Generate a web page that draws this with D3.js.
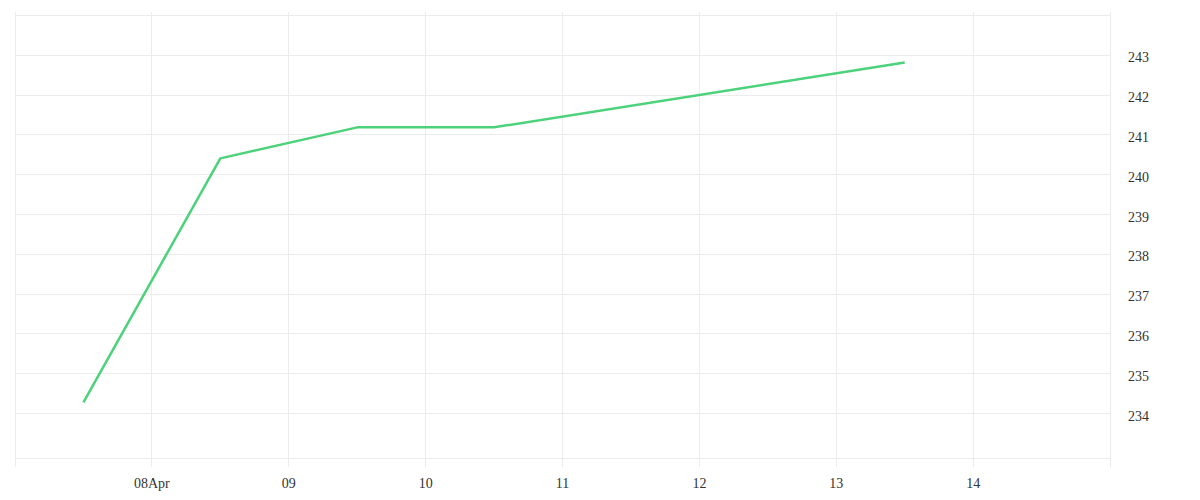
<!DOCTYPE html>
<html>
<head>
<meta charset="utf-8">
<script src="https://cdn.jsdelivr.net/npm/d3@7"></script>
<style>
  body { margin: 0; background: #fff; }
  text { font-family: "Liberation Serif", serif; font-size: 14px; fill: #333; }
</style>
</head>
<body>
<div id="canvas"></div>
<script>
// data
const dates = ["2023-04-07T12:00", "2023-04-08T12:00", "2023-04-09T12:00", "2023-04-10T12:00", "2023-04-13T12:00"];
const values = [234.28, 240.41, 241.19, 241.19, 242.82];
const yTicks = [234, 235, 236, 237, 238, 239, 240, 241, 242, 243];
const xTickDays = ["2023-04-08", "2023-04-09", "2023-04-10", "2023-04-11", "2023-04-12", "2023-04-13", "2023-04-14"];

const width = 1200;
const height = 500;
const parse = d3.timeParse("%Y-%m-%dT%H:%M");
const parseDay = d3.timeParse("%Y-%m-%d");

const data = dates.map((d, i) => ({ date: parse(d), value: values[i] }));

const svg = d3.select("#canvas").append("svg")
    .attr("width", width)
    .attr("height", height);

const x = d3.scaleTime()
    .domain([parseDay("2023-04-07"), parseDay("2023-04-15")])
    .range([15, 1110]);

const y = d3.scaleLinear()
    .domain([232.87, 244])
    .range([458.5, 15.5]);

const px = v => Math.floor(v) + 0.5;

const grid = svg.append("g").attr("stroke", "#ececec").attr("stroke-width", 1);

// horizontal grid
grid.selectAll(".hg").data(yTicks.concat([244])).enter().append("line")
    .attr("x1", x.range()[0]).attr("x2", x.range()[1] + 1)
    .attr("y1", d => px(y(d)))
    .attr("y2", d => px(y(d)));

grid.append("line")
    .attr("x1", x.range()[0]).attr("x2", x.range()[1] + 1)
    .attr("y1", y.range()[0]).attr("y2", y.range()[0]);

// vertical grid (incl. edges), running a bit past the plot
const xTicks = xTickDays.map(parseDay);
const vlines = [parseDay("2023-04-07")].concat(xTicks, [parseDay("2023-04-15")]);
grid.selectAll(".vg").data(vlines).enter().append("line")
    .attr("x1", d => px(x(d)))
    .attr("x2", d => px(x(d)))
    .attr("y1", 12)
    .attr("y2", 467);

// x labels
const fmt = d => d3.timeFormat("%d")(d) + (d.getDate() === 8 ? "Apr" : "");
svg.append("g").selectAll("text").data(xTicks).enter().append("text")
    .attr("x", d => x(d))
    .attr("y", 488)
    .attr("text-anchor", "middle")
    .text(fmt);

// y labels on the right
svg.append("g").selectAll("text").data(yTicks).enter().append("text")
    .attr("x", 1128)
    .attr("y", d => y(d) + 7)
    .text(d => d);

const line = d3.line()
    .x(d => x(d.date))
    .y(d => y(d.value));

svg.append("path")
    .datum(data)
    .attr("fill", "none")
    .attr("stroke", "#4cd27a")
    .attr("stroke-width", 2.5)
    .attr("stroke-linejoin", "round")
    .attr("d", line);
</script>
</body>
</html>
